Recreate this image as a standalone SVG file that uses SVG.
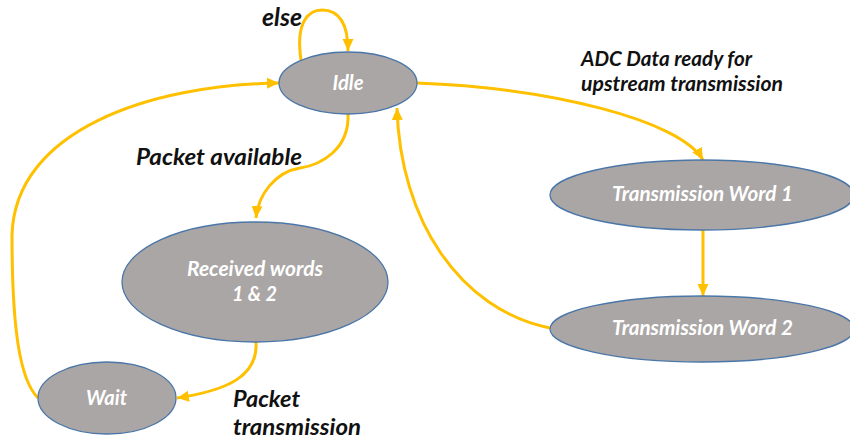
<svg xmlns="http://www.w3.org/2000/svg" width="850" height="441" viewBox="0 0 850 441">
<style>
.node ellipse{fill:#aaa6a5;stroke:#4a76a8;stroke-width:1.3}
.nt{font-family:Lato,"Open Sans","Liberation Sans",sans-serif;font-weight:bold;font-style:italic;fill:#ffffff;text-anchor:middle}
.lbl{font-family:Lato,"Open Sans","Liberation Sans",sans-serif;font-weight:bold;font-style:italic;fill:#111111}
.edge{fill:none;stroke:#ffc000;stroke-width:3;marker-end:url(#ah)}
</style>
<defs>
<marker id="ah" markerUnits="userSpaceOnUse" markerWidth="14" markerHeight="14" viewBox="0 0 14 14" refX="12" refY="7" orient="auto">
<path d="M0,1.5 L12,7 L0,12.5 Z" fill="#ffc000"/>
</marker>
</defs>
<rect width="850" height="441" fill="#ffffff"/>
<g id="connectors">
<path class="edge" d="M301,60 C295,20 310,10 322,10 C340,10 348,25 348,51"/>
<path class="edge" d="M38,398 C20,380 12,330 12,235 C15,130 150,85 279,83"/>
<path class="edge" d="M348,113 C350,150 320,165 300,168 C275,172 258,195 256,218"/>
<path class="edge" d="M417,83 C550,88 680,120 703,160"/>
<path class="edge" d="M703,230 L703,296"/>
<path class="edge" d="M550,328 C460,310 400,220 397,108"/>
<path class="edge" d="M256,342 C258,375 230,390 177,398"/>
</g>
<g id="idle" class="node"><ellipse cx="348" cy="83" rx="69" ry="31"/><text class="nt" x="348" y="90" font-size="20" textLength="31" lengthAdjust="spacingAndGlyphs">Idle</text></g>
<g id="tw1" class="node"><ellipse cx="702" cy="195" rx="152" ry="35"/><text class="nt" x="702.5" y="201" font-size="20" textLength="181" lengthAdjust="spacingAndGlyphs">Transmission Word 1</text></g>
<g id="tw2" class="node"><ellipse cx="702" cy="329" rx="152" ry="33"/><text class="nt" x="702.5" y="335" font-size="20" textLength="181" lengthAdjust="spacingAndGlyphs">Transmission Word 2</text></g>
<g id="received" class="node"><ellipse cx="255" cy="282" rx="133" ry="60"/><text class="nt" x="255" y="276" font-size="20.5" textLength="136" lengthAdjust="spacingAndGlyphs">Received words</text><text class="nt" x="254.5" y="301" font-size="20.5" textLength="45" lengthAdjust="spacingAndGlyphs">1 &amp; 2</text></g>
<g id="wait" class="node"><ellipse cx="107" cy="398" rx="69" ry="36"/><text class="nt" x="106.5" y="405" font-size="20" textLength="41" lengthAdjust="spacingAndGlyphs">Wait</text></g>
<g id="labels">
<text class="lbl" x="262" y="26" font-size="24" textLength="40" lengthAdjust="spacingAndGlyphs">else</text>
<text class="lbl" x="581" y="66" font-size="20" textLength="171" lengthAdjust="spacingAndGlyphs">ADC Data ready for</text>
<text class="lbl" x="581" y="91" font-size="20" textLength="202" lengthAdjust="spacingAndGlyphs">upstream transmission</text>
<text class="lbl" x="136" y="165" font-size="23.5" textLength="166" lengthAdjust="spacingAndGlyphs">Packet available</text>
<text class="lbl" x="233" y="407" font-size="23.5" textLength="67" lengthAdjust="spacingAndGlyphs">Packet</text>
<text class="lbl" x="233" y="435" font-size="23.5" textLength="128" lengthAdjust="spacingAndGlyphs">transmission</text>
</g>
</svg>
